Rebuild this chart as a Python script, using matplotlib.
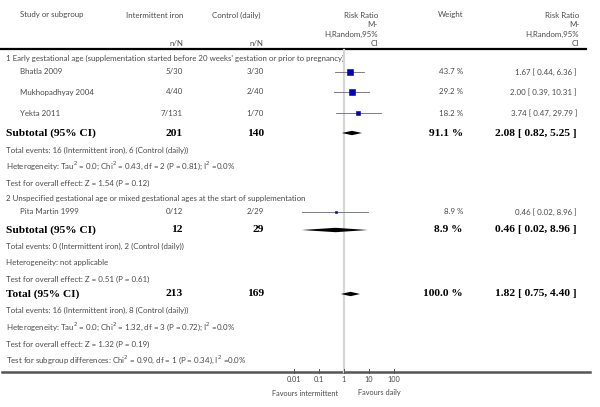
import matplotlib
matplotlib.use("Agg")
import matplotlib.pyplot as plt
import numpy as np

# study rows
studies = ["Bhatla 2009", "Mukhopadhyay 2004", "Yekta 2011", "Pita Martin 1999"]
iron_nN = ["5/30", "4/40", "7/131", "0/12"]
ctrl_nN = ["3/30", "2/40", "1/70", "2/29"]
rr = [1.67, 2.00, 3.74, 0.46]
lo = [0.44, 0.39, 0.47, 0.02]
hi = [6.36, 10.31, 29.79, 8.96]
weights = ["43.7 %", "29.2 %", "18.2 %", "8.9 %"]
rr_text = ["1.67 [ 0.44, 6.36 ]", "2.00 [ 0.39, 10.31 ]", "3.74 [ 0.47, 29.79 ]", "0.46 [ 0.02, 8.96 ]"]
msize = [4.4, 3.7, 2.7, 2.1]

# pooled rows
pooled_labels = ["Subtotal (95% CI)", "Subtotal (95% CI)", "Total (95% CI)"]
pooled_iron = ["201", "12", "213"]
pooled_ctrl = ["140", "29", "169"]
pooled_rr = [2.08, 0.46, 1.82]
pooled_lo = [0.82, 0.02, 0.75]
pooled_hi = [5.25, 8.96, 4.40]
pooled_w = ["91.1 %", "8.9 %", "100.0 %"]
pooled_text = ["2.08 [ 0.82, 5.25 ]", "0.46 [ 0.02, 8.96 ]", "1.82 [ 0.75, 4.40 ]"]

notes = [
    "1 Early gestational age (supplementation started before 20 weeks' gestation or prior to pregnancy)",
    "Total events: 16 (Intermittent iron), 6 (Control (daily))",
    "Heterogeneity: Tau$^2$ = 0.0; Chi$^2$ = 0.43, df = 2 (P = 0.81); I$^2$ =0.0%",
    "Test for overall effect: Z = 1.54 (P = 0.12)",
    "2 Unspecified gestational age or mixed gestational ages at the start of supplementation",
    "Total events: 0 (Intermittent iron), 2 (Control (daily))",
    "Heterogeneity: not applicable",
    "Test for overall effect: Z = 0.51 (P = 0.61)",
    "Total events: 16 (Intermittent iron), 8 (Control (daily))",
    "Heterogeneity: Tau$^2$ = 0.0; Chi$^2$ = 1.32, df = 3 (P = 0.72); I$^2$ =0.0%",
    "Test for overall effect: Z = 1.32 (P = 0.19)",
    "Test for subgroup differences: Chi$^2$ = 0.90, df = 1 (P = 0.34), I$^2$ =0.0%",
]
ticks = [0.01, 0.1, 1, 10, 100]
tick_labels = ["0.01", "0.1", "1", "10", "100"]

# layout (pixel rows)
study_y = [72, 92, 113, 212]
pooled_y = [133, 230, 294]
note_y = [58, 150, 166, 183, 198, 246, 263, 279, 310, 327, 344, 360]

W, H = 600, 407
fig = plt.figure(figsize=(6, 4.07), dpi=100)
ax = fig.add_axes([0, 0, 1, 1])
ax.set_xlim(0, W)
ax.set_ylim(H, 0)
ax.axis("off")

# forest axes: 1 at x=344, 25 px per decade
fx0, fx1 = 344 - 75, 344 + 75
fa = fig.add_axes([fx0 / W, 0, (fx1 - fx0) / W, 1])
fa.set_xscale("log")
fa.set_xlim(1e-3, 1e3)
fa.set_ylim(H, 0)
fa.axis("off")

sans = "Lato"
serif = "Liberation Serif"
gray = "#4a4a4a"
fs = 5.7
bfs = 8.2

def t(x, y, s, ha="left", **kw):
    kw.setdefault("fontsize", fs)
    kw.setdefault("color", gray)
    kw.setdefault("family", sans)
    ax.text(x, y, s, ha=ha, va="center", **kw)

# header
t(20, 15, "Study or subgroup")
t(155, 15, "Intermittent iron", ha="center")
t(236, 15, "Control (daily)", ha="center")
t(183, 43, "n/N", ha="right")
t(264, 43, "n/N", ha="right")
for i, s in enumerate(["Risk Ratio", "M-", "H,Random,95%", "CI"]):
    t(378, 15 + i * 9.5, s, ha="right")
    t(579, 15 + i * 9.5, s, ha="right")
t(463, 15, "Weight", ha="right")
ax.plot([0, 586], [49, 49], color="black", lw=1.6)

# notes
for s, y in zip(notes, note_y):
    t(6, y, s)

# reference line and bottom axis
fa.plot([1, 1], [50, 372], color="#d6d6d6", lw=1.6, zorder=0)
ax.plot([2, 590], [372, 372], color="#555555", lw=1.8)
for tk, lab in zip(ticks, tick_labels):
    fa.plot([tk, tk], [369, 373], color="#555555", lw=0.7)
    fa.text(tk, 380, lab, ha="center", va="center", fontsize=fs - 0.4, color=gray, family=sans)
t(305, 393, "Favours intermittent", ha="center", fontsize=fs - 0.4)
t(379, 393, "Favours daily", ha="center", fontsize=fs - 0.4)

# studies
for i in range(len(studies)):
    y = study_y[i]
    t(20, y, studies[i])
    t(183, y, iron_nN[i], ha="right")
    t(264, y, ctrl_nN[i], ha="right")
    t(463, y, weights[i], ha="right")
    t(577, y, rr_text[i], ha="right")
    fa.plot([lo[i], hi[i]], [y, y], color="#666680", lw=0.6, zorder=2)
    fa.plot(rr[i], y, marker="s", ms=msize[i], color="#0000c8", mec="#0000a0", mew=0.4, zorder=3)

# pooled
for i in range(len(pooled_labels)):
    y = pooled_y[i]
    kw = dict(fontsize=bfs, color="black", family=serif, weight="bold")
    t(6, y, pooled_labels[i], **kw)
    t(183, y, pooled_iron[i], ha="right", **kw)
    t(264, y, pooled_ctrl[i], ha="right", **kw)
    t(463, y, pooled_w[i], ha="right", **kw)
    t(577, y, pooled_text[i], ha="right", **kw)
    xs = [pooled_lo[i], pooled_rr[i], pooled_hi[i], pooled_rr[i]]
    ys = [y, y - 2.2, y, y + 2.2]
    fa.fill(xs, ys, color="black", lw=0, zorder=3)

fig.savefig("out.png", dpi=100)
